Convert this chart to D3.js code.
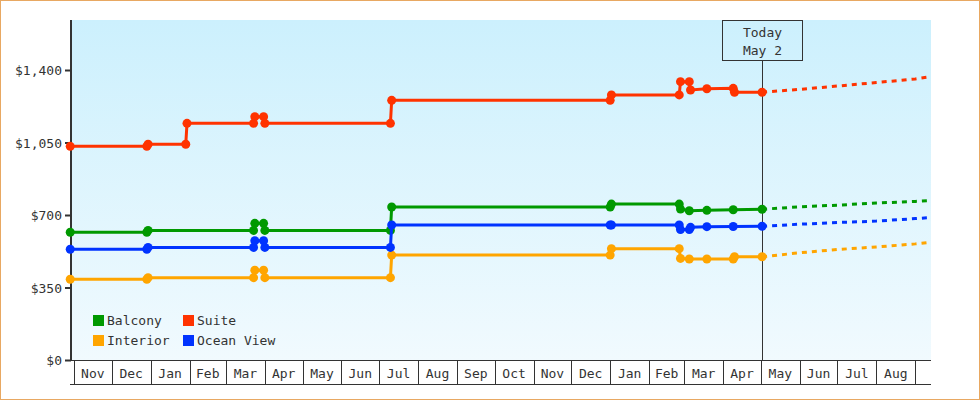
<!DOCTYPE html>
<html>
<head>
<meta charset="utf-8">
<script src="https://cdn.jsdelivr.net/npm/d3@7"></script>
<style>
  body { margin: 0; background: #fff; }
  svg text { font-family: "DejaVu Sans Mono", monospace; font-size: 13px; fill: #333; }
</style>
</head>
<body>
<div id="chart"></div>
<script>
// cabin price history
const seriesNames = ["Balcony", "Interior", "Suite", "Ocean View"];
const seriesColors = ["#009900", "#ffa500", "#ff3300", "#0033ff"];

const balconyPrices = [
  ["2015-10-29", 619], ["2015-12-29", 619], ["2015-12-30", 628], ["2016-03-23", 628],
  ["2016-03-24", 662], ["2016-03-31", 662], ["2016-04-01", 628], ["2016-07-10", 628],
  ["2016-07-11", 741], ["2017-01-01", 741], ["2017-01-02", 755], ["2017-02-25", 755],
  ["2017-02-26", 731], ["2017-03-05", 723], ["2017-03-19", 725], ["2017-04-09", 728],
  ["2017-05-02", 730]
];
const interiorPrices = [
  ["2015-10-29", 392], ["2015-12-29", 392], ["2015-12-30", 400], ["2016-03-23", 400],
  ["2016-03-24", 436], ["2016-03-31", 436], ["2016-04-01", 400], ["2016-07-10", 400],
  ["2016-07-11", 509], ["2017-01-01", 509], ["2017-01-02", 540], ["2017-02-25", 540],
  ["2017-02-26", 493], ["2017-03-05", 490], ["2017-03-19", 490], ["2017-04-09", 490],
  ["2017-04-10", 501], ["2017-05-02", 501]
];
const suitePrices = [
  ["2015-10-29", 1034], ["2015-12-29", 1034], ["2015-12-30", 1044], ["2016-01-29", 1044],
  ["2016-01-30", 1145], ["2016-03-23", 1145], ["2016-03-24", 1177], ["2016-03-31", 1177],
  ["2016-04-01", 1145], ["2016-07-10", 1145], ["2016-07-11", 1256], ["2017-01-01", 1256],
  ["2017-01-02", 1282], ["2017-02-25", 1282], ["2017-02-26", 1346], ["2017-03-05", 1346],
  ["2017-03-06", 1306], ["2017-03-19", 1312], ["2017-04-09", 1314], ["2017-04-10", 1295],
  ["2017-05-02", 1295]
];
const oceanViewPrices = [
  ["2015-10-29", 537], ["2015-12-29", 537], ["2015-12-30", 546], ["2016-03-23", 546],
  ["2016-03-24", 578], ["2016-03-31", 578], ["2016-04-01", 546], ["2016-07-10", 546],
  ["2016-07-11", 654], ["2017-01-01", 654], ["2017-01-02", 654], ["2017-02-25", 654],
  ["2017-02-26", 632], ["2017-03-05", 632], ["2017-03-06", 643], ["2017-03-19", 646],
  ["2017-04-09", 647], ["2017-05-02", 648]
];

// forecast after today (dashed)
const forecastDates = ["2017-05-02", "2017-06-01", "2017-07-01", "2017-08-01", "2017-09-01", "2017-09-13"];
const balconyForecast = [730, 742, 750, 760, 768, 772];
const interiorForecast = [501, 520, 536, 548, 563, 571];
const suiteForecast = [1295, 1309, 1325, 1342, 1359, 1370];
const oceanViewForecast = [648, 658, 666, 673, 685, 690];

const yTicks = [0, 350, 700, 1050, 1400];
const todayDate = "2017-05-02";
const monthStart = "2015-11-01", monthEnd = "2017-09-01";

const parse = d3.timeParse("%Y-%m-%d");
const history = [balconyPrices, interiorPrices, suitePrices, oceanViewPrices];
const forecasts = [balconyForecast, interiorForecast, suiteForecast, oceanViewForecast];

const width = 980, height = 400;
const plotLeft = 71, plotRight = 931, plotTop = 20, plotBottom = 360.5;

const x = d3.scaleTime()
  .domain([parse(monthStart), parse(monthEnd)])
  .range([74, 915.3]);
const y = d3.scaleLinear().domain([0, 1400]).range([plotBottom, 70.5]);

const svg = d3.select("#chart").append("svg")
  .attr("width", width).attr("height", height);

// background gradient
const grad = svg.append("defs").append("linearGradient")
  .attr("id", "bg").attr("x1", 0).attr("y1", 0).attr("x2", 0).attr("y2", 1);
grad.append("stop").attr("offset", "0%").attr("stop-color", "#ccf0fd");
grad.append("stop").attr("offset", "100%").attr("stop-color", "#f1fafe");

svg.append("rect")
  .attr("x", 0.5).attr("y", 0.5).attr("width", width - 1).attr("height", height - 1)
  .attr("fill", "#fff").attr("stroke", "#e8a862");

svg.append("rect")
  .attr("x", plotLeft).attr("y", plotTop).attr("width", plotRight - plotLeft).attr("height", plotBottom - plotTop)
  .attr("fill", "url(#bg)");

// y axis
svg.append("line")
  .attr("x1", plotLeft).attr("x2", plotLeft).attr("y1", plotTop).attr("y2", plotBottom)
  .attr("stroke", "#333").attr("stroke-width", 2);
const yt = svg.selectAll(".ytick").data(yTicks).enter().append("g").attr("class", "ytick");
yt.append("line")
  .attr("x1", plotLeft - 6).attr("x2", plotLeft).attr("y1", d => y(d)).attr("y2", d => y(d))
  .attr("stroke", "#333").attr("stroke-width", 2);
yt.append("text")
  .attr("x", plotLeft - 9).attr("y", d => y(d)).attr("dy", "0.35em")
  .attr("text-anchor", "end")
  .text(d => "$" + d3.format(",")(d));

// month cells under the plot
const months = d3.timeMonth.range(parse(monthStart), parse(monthEnd));
const cellTop = plotBottom, cellBottom = 384.5;
svg.append("line")
  .attr("x1", plotLeft).attr("x2", plotRight).attr("y1", cellTop).attr("y2", cellTop)
  .attr("stroke", "#333");
svg.append("line")
  .attr("x1", plotLeft - 1).attr("x2", plotRight).attr("y1", cellBottom).attr("y2", cellBottom)
  .attr("stroke", "#333");
svg.selectAll(".mline").data(months.concat([parse(monthEnd)])).enter().append("line")
  .attr("x1", d => Math.round(x(d)) + 0.5).attr("x2", d => Math.round(x(d)) + 0.5)
  .attr("y1", cellTop).attr("y2", cellBottom)
  .attr("stroke", "#333");
svg.selectAll(".mlabel").data(months).enter().append("text")
  .attr("x", d => (x(d) + x(d3.timeMonth.offset(d, 1))) / 2)
  .attr("y", 378)
  .attr("text-anchor", "middle")
  .text(d => d3.timeFormat("%b")(d));

// today marker
const tx = Math.round(x(parse(todayDate))) + 0.5;
svg.append("line")
  .attr("x1", tx).attr("x2", tx).attr("y1", 60).attr("y2", plotBottom)
  .attr("stroke", "#333");
svg.append("rect")
  .attr("x", tx - 40).attr("y", plotTop + 0.5).attr("width", 80).attr("height", 40)
  .attr("fill", "none").attr("stroke", "#333");
svg.append("text").attr("x", tx).attr("y", 37).attr("text-anchor", "middle").text("Today");
svg.append("text").attr("x", tx).attr("y", 55).attr("text-anchor", "middle")
  .text(d3.timeFormat("%b %-d")(parse(todayDate)));

// lines
const line = d3.line().x(d => x(d[0])).y(d => y(d[1]));

history.forEach((rows, i) => {
  const pts = rows.map(r => [parse(r[0]), r[1]]);
  const fc = forecastDates.map((d, j) => [parse(d), forecasts[i][j]]);
  svg.append("path").datum(fc)
    .attr("d", line).attr("fill", "none")
    .attr("stroke", seriesColors[i]).attr("stroke-width", 3)
    .attr("stroke-dasharray", "5,5");
  svg.append("path").datum(pts)
    .attr("d", line).attr("fill", "none")
    .attr("stroke", seriesColors[i]).attr("stroke-width", 3);
  svg.selectAll(null).data(pts).enter().append("circle")
    .attr("cx", d => x(d[0])).attr("cy", d => y(d[1])).attr("r", 4.5)
    .attr("fill", seriesColors[i]);
});

// legend
const legendPos = [[93, 315], [93, 335], [183, 315], [183, 335]];
seriesNames.forEach((name, i) => {
  svg.append("rect")
    .attr("x", legendPos[i][0]).attr("y", legendPos[i][1]).attr("width", 11).attr("height", 11)
    .attr("fill", seriesColors[i]);
  svg.append("text")
    .attr("x", legendPos[i][0] + 14).attr("y", legendPos[i][1] + 10)
    .text(name);
});
</script>
</body>
</html>
